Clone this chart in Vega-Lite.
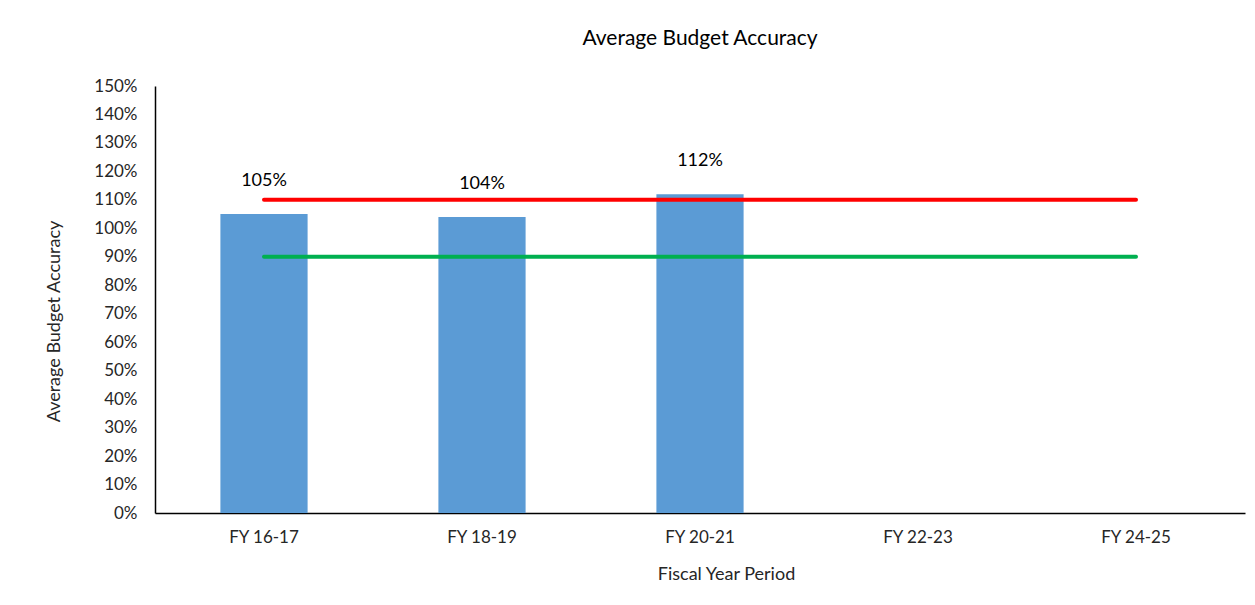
{
  "$schema": "https://vega.github.io/schema/vega-lite/v6.json",
  "width": 1090,
  "height": 427,
  "autosize": "none",
  "padding": {"left": 155, "top": 86, "right": 10, "bottom": 92},
  "background": "white",
  "config": {"view": {"stroke": null}, "font": "Lato"},
  "title": {"text": "Average Budget Accuracy", "fontSize": 21, "fontWeight": "normal", "font": "Lato", "color": "#000000", "offset": 28, "anchor": "middle"},
  "datasets": {
    "bars": [
      {"period": "FY 16-17", "accuracy": 105, "label": "105%"},
      {"period": "FY 18-19", "accuracy": 104, "label": "104%"},
      {"period": "FY 20-21", "accuracy": 112, "label": "112%"}
    ],
    "limits": [
      {"period": "FY 16-17", "series": "Upper", "accuracy": 110},
      {"period": "FY 18-19", "series": "Upper", "accuracy": 110},
      {"period": "FY 20-21", "series": "Upper", "accuracy": 110},
      {"period": "FY 22-23", "series": "Upper", "accuracy": 110},
      {"period": "FY 24-25", "series": "Upper", "accuracy": 110},
      {"period": "FY 16-17", "series": "Lower", "accuracy": 90},
      {"period": "FY 18-19", "series": "Lower", "accuracy": 90},
      {"period": "FY 20-21", "series": "Lower", "accuracy": 90},
      {"period": "FY 22-23", "series": "Lower", "accuracy": 90},
      {"period": "FY 24-25", "series": "Lower", "accuracy": 90}
    ]
  },
  "encoding": {
    "x": {
      "field": "period", "type": "nominal",
      "scale": {"domain": ["FY 16-17", "FY 18-19", "FY 20-21", "FY 22-23", "FY 24-25"], "paddingInner": 0.6, "paddingOuter": 0.3},
      "axis": {"title": "Fiscal Year Period", "labelAngle": 0, "labelFontSize": 17, "labelColor": "#262626", "labelFont": "Lato", "ticks": false, "labelPadding": 16, "domainColor": "#000000", "domainWidth": 1.5, "titleFontSize": 18, "titleFontWeight": "normal", "titleColor": "#262626", "titleFont": "Lato", "titlePadding": 20, "titleX": 571}
    },
    "y": {
      "field": "accuracy", "type": "quantitative",
      "scale": {"domain": [0, 150], "nice": false},
      "axis": {"title": "Average Budget Accuracy", "labelExpr": "datum.value + '%'", "values": [0, 10, 20, 30, 40, 50, 60, 70, 80, 90, 100, 110, 120, 130, 140, 150], "grid": false, "ticks": false, "labelOverlap": false, "labelBound": false, "labelFlush": false, "labelFontSize": 17, "labelColor": "#262626", "labelFont": "Lato", "labelPadding": 18, "domainColor": "#000000", "domainWidth": 1.5, "titleFontSize": 18, "titleFontWeight": "normal", "titleColor": "#262626", "titleFont": "Lato", "titleX": -92, "titleY": 235}
    }
  },
  "layer": [
    {
      "data": {"name": "bars"},
      "mark": {"type": "bar", "color": "#5B9BD5"}
    },
    {
      "data": {"name": "limits"},
      "mark": {"type": "line", "strokeWidth": 4, "strokeCap": "round"},
      "encoding": {
        "detail": {"field": "series"},
        "color": {"field": "series", "type": "nominal", "scale": {"domain": ["Upper", "Lower"], "range": ["#FF0000", "#00B050"]}, "legend": null}
      }
    },
    {
      "data": {"name": "bars"},
      "mark": {"type": "text", "dy": -33, "fontSize": 18, "font": "Lato", "color": "#000000"},
      "encoding": {
        "text": {"field": "label", "type": "nominal"}
      }
    }
  ]
}
